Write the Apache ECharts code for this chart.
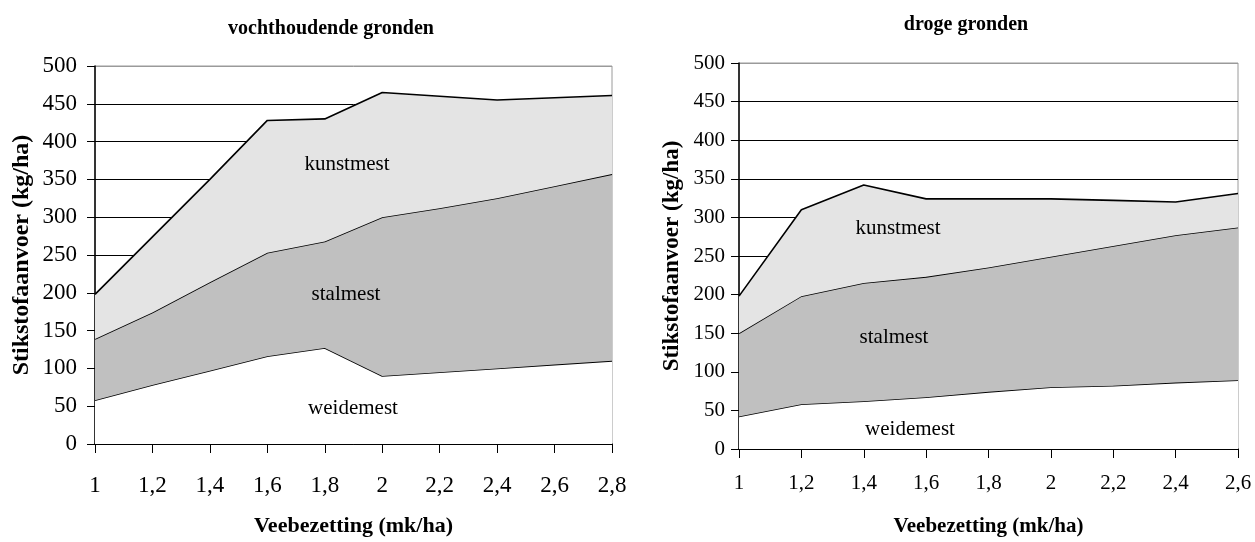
<!DOCTYPE html>
<html>
<head>
<meta charset="utf-8">
<script src="https://cdn.jsdelivr.net/npm/echarts@6/dist/echarts.min.js"></script>
<style>
html,body{margin:0;padding:0;background:#fff;}
#c{width:1255px;height:542px;}
</style>
</head>
<body>
<div id="c"></div>
<script>
// ---- data ----
const catsLeft = ['1','1,2','1,4','1,6','1,8','2','2,2','2,4','2,6','2,8'];
const weideLeft = [58, 78, 97, 116, 127, 90, 95, 100, 105, 110];
const stalLeft  = [81, 96, 117, 137, 141, 210, 217, 225, 236, 247];
const kunstLeft = [59, 100, 136, 175, 162, 165, 148, 130, 117, 104];

const catsRight = ['1','1,2','1,4','1,6','1,8','2','2,2','2,4','2,6'];
const weideRight = [42, 58, 62, 67, 74, 80, 82, 86, 89];
const stalRight  = [108, 140, 153, 156, 161, 169, 181, 191, 198];
const kunstRight = [48, 112, 127, 101, 89, 75, 59, 43, 44];

const yTicks = [0, 50, 100, 150, 200, 250, 300, 350, 400, 450, 500];
const titleLeft = 'vochthoudende gronden';
const titleRight = 'droge gronden';
const yName = 'Stikstofaanvoer (kg/ha)';
const xName = 'Veebezetting (mk/ha)';
const seriesNames = ['weidemest', 'stalmest', 'kunstmest'];

// ---- styling ----
const FONT = '"Liberation Serif", "Times New Roman", serif';
const gridColors = yTicks.map((v, i) => i === yTicks.length - 1 ? '#9a9a9a' : '#000');
const fills = ['#ffffff', '#c0c0c0', '#e4e4e4'];

function xAxis(idx, cats, fontSize, margin, nameGap, nameSize) {
  return {
    type: 'category', gridIndex: idx, data: cats, boundaryGap: false,
    axisLine: { lineStyle: { color: '#000', width: 1.5 } },
    axisTick: { show: true, length: 9, interval: 0, lineStyle: { color: '#000', width: 1 } },
    axisLabel: { interval: 0, color: '#000', fontFamily: FONT, fontSize: fontSize, margin: margin },
    splitLine: { show: false },
    name: xName, nameLocation: 'middle', nameGap: nameGap,
    nameTextStyle: { fontFamily: FONT, fontWeight: 'bold', fontSize: nameSize, color: '#000' }
  };
}
function yAxis(idx, fontSize, margin, nameGap, nameSize) {
  return {
    type: 'value', gridIndex: idx, min: yTicks[0], max: yTicks[yTicks.length - 1], interval: 50,
    axisLine: { show: true, lineStyle: { color: '#000', width: 1.5 } },
    axisTick: { show: true, length: 8, lineStyle: { color: '#000', width: 1 } },
    axisLabel: { color: '#000', fontFamily: FONT, fontSize: fontSize, margin: margin },
    splitLine: { show: true, lineStyle: { color: gridColors, width: 1 } },
    name: yName, nameLocation: 'middle', nameGap: nameGap, nameRotate: 90,
    nameTextStyle: { fontFamily: FONT, fontWeight: 'bold', fontSize: nameSize, color: '#000' }
  };
}
function makeSeries(idx, stackName, arrays) {
  return arrays.map((arr, i) => ({
    name: seriesNames[i], type: 'line', xAxisIndex: idx, yAxisIndex: idx,
    stack: stackName, data: arr, showSymbol: false, symbol: 'none', silent: true,
    lineStyle: { color: '#000', width: 1.6 },
    areaStyle: { color: fills[i], opacity: 1 },
    z: 2 + i
  }));
}

const chart = echarts.init(document.getElementById('c'), null, { renderer: 'canvas' });
chart.setOption({
  animation: false,
  backgroundColor: '#fff',
  title: [
    { text: titleLeft, left: 326, top: 14, textAlign: 'center',
      textStyle: { fontFamily: FONT, fontWeight: 'bold', fontSize: 20, color: '#000' } },
    { text: titleRight, left: 961, top: 10, textAlign: 'center',
      textStyle: { fontFamily: FONT, fontWeight: 'bold', fontSize: 20, color: '#000' } }
  ],
  grid: [
    { left: 95, top: 66, width: 517, height: 380, show: true, borderColor: '#9a9a9a', borderWidth: 1, backgroundColor: 'transparent' },
    { left: 739, top: 63, width: 499, height: 389, show: true, borderColor: '#9a9a9a', borderWidth: 1, backgroundColor: 'transparent' }
  ],
  xAxis: [ xAxis(0, catsLeft, 23, 30, 71, 22), xAxis(1, catsRight, 21, 24, 67, 21) ],
  yAxis: [ yAxis(0, 23, 18, 61, 24), yAxis(1, 21, 14, 55, 23) ],
  series: [].concat(
    makeSeries(0, 'L', [weideLeft, stalLeft, kunstLeft]),
    makeSeries(1, 'R', [weideRight, stalRight, kunstRight])
  ),
  graphic: [
    { type: 'text', x: 347, y: 164, z: 100, style: { text: seriesNames[2], fontFamily: FONT, fontSize: 21, fill: '#000', align: 'center', verticalAlign: 'middle' } },
    { type: 'text', x: 346, y: 294, z: 100, style: { text: seriesNames[1], fontFamily: FONT, fontSize: 21, fill: '#000', align: 'center', verticalAlign: 'middle' } },
    { type: 'text', x: 353, y: 408, z: 100, style: { text: seriesNames[0], fontFamily: FONT, fontSize: 21, fill: '#000', align: 'center', verticalAlign: 'middle' } },
    { type: 'text', x: 898, y: 228, z: 100, style: { text: seriesNames[2], fontFamily: FONT, fontSize: 21, fill: '#000', align: 'center', verticalAlign: 'middle' } },
    { type: 'text', x: 894, y: 337, z: 100, style: { text: seriesNames[1], fontFamily: FONT, fontSize: 21, fill: '#000', align: 'center', verticalAlign: 'middle' } },
    { type: 'text', x: 910, y: 429, z: 100, style: { text: seriesNames[0], fontFamily: FONT, fontSize: 21, fill: '#000', align: 'center', verticalAlign: 'middle' } }
  ]
});
</script>
</body>
</html>
